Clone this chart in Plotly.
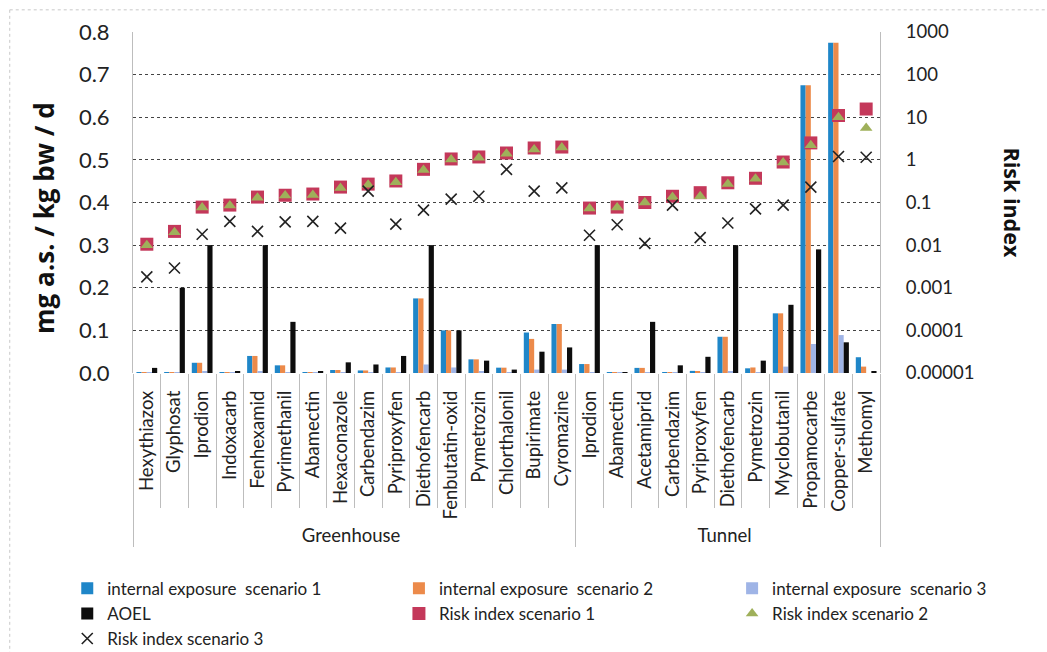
import plotly.graph_objects as go

groups = ["Greenhouse"] * 16 + ["Tunnel"] * 11
substances = ["Hexythiazox", "Glyphosat", "Iprodion", "Indoxacarb", "Fenhexamid", "Pyrimethanil",
              "Abamectin", "Hexaconazole", "Carbendazim", "Pyriproxyfen", "Diethofencarb",
              "Fenbutatin-oxid", "Pymetrozin", "Chlorthalonil", "Bupirimate", "Cyromazine",
              "Iprodion", "Abamectin", "Acetamiprid", "Carbendazim", "Pyriproxyfen",
              "Diethofencarb", "Pymetrozin", "Myclobutanil", "Propamocarbe", "Copper-sulfate",
              "Methomyl"]

exposure_s1 = [0.002, 0.002, 0.024, 0.001, 0.040, 0.018, 0.001, 0.007, 0.006, 0.013, 0.175,
               0.100, 0.032, 0.0125, 0.095, 0.115,
               0.021, 0.001, 0.012, 0.0015, 0.005, 0.085, 0.011, 0.140, 0.675, 0.775, 0.037]
exposure_s2 = [0.002, 0.002, 0.024, 0.001, 0.040, 0.018, 0.001, 0.007, 0.006, 0.013, 0.175,
               0.100, 0.032, 0.0125, 0.080, 0.115,
               0.021, 0.001, 0.012, 0.0015, 0.004, 0.085, 0.013, 0.140, 0.675, 0.775, 0.015]
exposure_s3 = [0.0005, 0.0005, 0.003, 0.0003, 0.004, 0.002, 0.0003, 0.001, 0.001, 0.002, 0.020,
               0.013, 0.003, 0.002, 0.008, 0.008,
               0.002, 0.0003, 0.001, 0.0003, 0.001, 0.004, 0.002, 0.015, 0.068, 0.089, 0.0]
aoel = [0.012, 0.200, 0.300, 0.004, 0.300, 0.120, 0.0025, 0.025, 0.020, 0.040, 0.300,
        0.100, 0.029, 0.008, 0.050, 0.060,
        0.300, 0.002, 0.120, 0.018, 0.038, 0.300, 0.029, 0.160, 0.290, 0.072, 0.0025]

risk_s1 = [0.0105, 0.021, 0.078, 0.087, 0.134, 0.148, 0.158, 0.23, 0.27, 0.32, 0.60,
           1.05, 1.17, 1.45, 1.9, 2.0,
           0.074, 0.078, 0.10, 0.14, 0.17, 0.29, 0.37, 0.89, 2.5, 11.0, 15.6]
risk_s2 = [0.010, 0.020, 0.076, 0.085, 0.130, 0.145, 0.150, 0.22, 0.26, 0.30, 0.58,
           1.02, 1.12, 1.40, 1.75, 1.95,
           0.072, 0.076, 0.10, 0.135, 0.14, 0.27, 0.36, 0.87, 2.2, 10.0, 5.6]
risk_s3 = [0.0018, 0.0029, 0.018, 0.036, 0.021, 0.035, 0.036, 0.025, 0.185, 0.031, 0.066,
           0.12, 0.14, 0.60, 0.185, 0.22,
           0.017, 0.030, 0.011, 0.087, 0.015, 0.033, 0.071, 0.087, 0.23, 1.2, 1.15]

risk_ticks = [0.00001, 0.0001, 0.001, 0.01, 0.1, 1, 10, 100, 1000]
risk_ticktext = ["0.00001", "0.0001", "0.001", "0.01", "0.1", "1", "10", "100", "1000"]

FONT = "Lato"
TITLE_FONT = "Open Sans"

# make repeated substance names unique (invisible suffix) so the category order is kept
seen = {}
inner = []
for s in substances:
    n = seen.get(s, 0)
    inner.append(s + "\u200b" * n)
    seen[s] = n + 1
x = [groups, inner]

fig = go.Figure()
bar_specs = [
    ("internal exposure  scenario 1", exposure_s1, "#1f86c8", "legend"),
    ("internal exposure  scenario 2", exposure_s2, "#ec8a4a", "legend2"),
    ("internal exposure  scenario 3", exposure_s3, "#9fb4e6", "legend3"),
    ("AOEL", aoel, "#0d0d0d", "legend"),
]
for name, vals, col, lg in bar_specs:
    fig.add_trace(go.Bar(x=x, y=vals, name=name, marker=dict(color=col, line=dict(width=0)),
                         yaxis="y", legend=lg))

fig.add_trace(go.Scatter(x=x, y=risk_s1, name="Risk index scenario 1", mode="markers",
                         marker=dict(symbol="square", size=13, color="#c4385a"), yaxis="y2",
                         legend="legend2"))
fig.add_trace(go.Scatter(x=x, y=risk_s2, name="Risk index scenario 2", mode="markers",
                         marker=dict(symbol="triangle-up", size=11, color="#9fb05a"), yaxis="y2",
                         legend="legend3"))
fig.add_trace(go.Scatter(x=x, y=risk_s3, name="Risk index scenario 3", mode="markers",
                         marker=dict(symbol="x-thin-open", size=11, color="#222222",
                                     line=dict(width=1.6, color="#222222")), yaxis="y2",
                         legend="legend"))

grey = "#bdbdbd"
legend_common = dict(orientation="v", xanchor="left", y=-0.58, yanchor="top",
                     font=dict(size=17, family=FONT, color="#222222"), tracegroupgap=0,
                     itemwidth=30, bgcolor="rgba(0,0,0,0)")
fig.update_layout(
    width=1047, height=652,
    margin=dict(l=133, r=167, t=32, b=279, autoexpand=False),
    paper_bgcolor="white", plot_bgcolor="white",
    font=dict(family=FONT, color="#222222"),
    barmode="group", bargap=0.25, bargroupgap=0.0,
    showlegend=True,
    legend=dict(x=-0.088, **legend_common),
    legend2=dict(x=0.356, **legend_common),
    legend3=dict(x=0.802, **legend_common),
    xaxis=dict(type="multicategory", tickangle=-90, tickfont=dict(size=18.5, family=FONT),
               ticks="outside", ticklen=134, tickcolor=grey, tickwidth=1,
               ticklabelstandoff=13,
               showdividers=True, dividercolor=grey, dividerwidth=1,
               showline=False, showgrid=False, range=[-0.5, 26.5], automargin=False),
    yaxis=dict(range=[0, 0.8], dtick=0.1, tickformat=".1f", showgrid=True,
               gridcolor="#444444", griddash="dot", gridwidth=1,
               tickfont=dict(size=22, family=FONT), ticks="outside", ticklen=18,
               tickcolor="rgba(0,0,0,0)", showline=True, linecolor=grey,
               linewidth=1, zeroline=False, automargin=False),
    yaxis2=dict(type="log", range=[-5, 3], overlaying="y", side="right",
                tickvals=risk_ticks, ticktext=risk_ticktext, showgrid=False,
                tickfont=dict(size=18.5, family=FONT), ticks="outside", ticklen=21,
                tickcolor="rgba(0,0,0,0)", showline=True, linecolor=grey,
                linewidth=1, zeroline=False, automargin=False),
    annotations=[
        dict(text="<b>mg a.s. / kg bw / d</b>", xref="paper", yref="paper",
             x=-0.119, y=0.455, xanchor="center", yanchor="middle", textangle=-90,
             showarrow=False, font=dict(size=26, family=TITLE_FONT, color="#111111")),
        dict(text="<b>Risk index</b>", xref="paper", yref="paper",
             x=1.178, y=0.5, xanchor="center", yanchor="middle", textangle=90,
             showarrow=False, font=dict(size=21.5, family=TITLE_FONT, color="#111111")),
    ],
    shapes=[
        dict(type="line", xref="paper", yref="paper", x0=-0.165, x1=1.3, y0=1.065, y1=1.065,
             line=dict(color="#c8c8c8", width=1, dash="dot")),
        dict(type="line", xref="paper", yref="paper", x0=-0.165, x1=-0.165, y0=1.065, y1=-0.85,
             line=dict(color="#c8c8c8", width=1, dash="dot")),
    ],
)

fig.write_html("out.html", config={"displayModeBar": False},
               post_script="document.body.style.margin='0px';")
